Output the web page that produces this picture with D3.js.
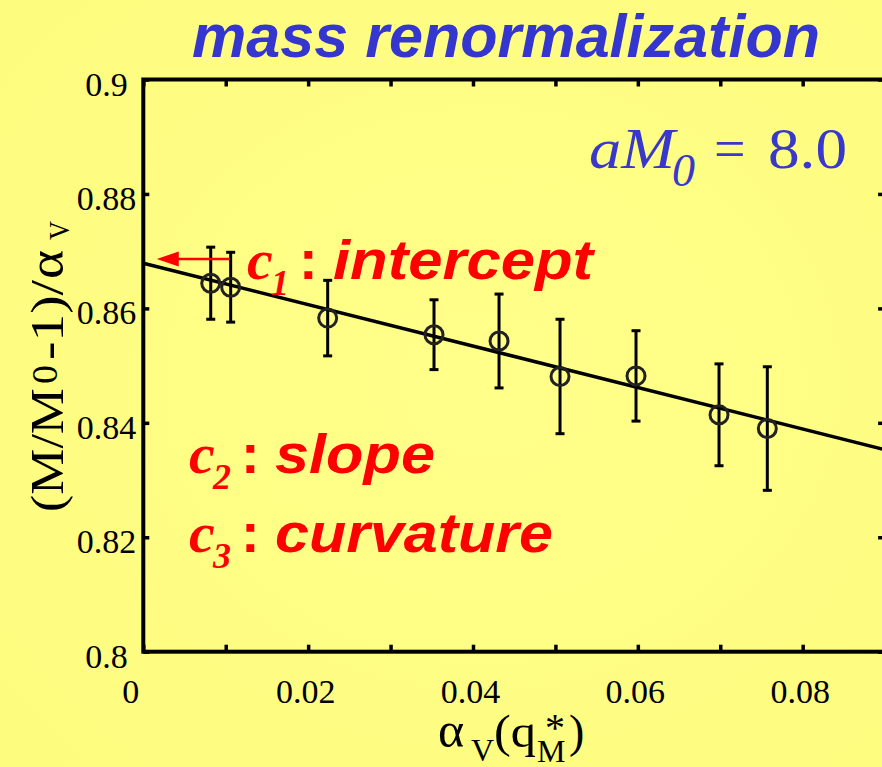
<!DOCTYPE html>
<html><head><meta charset="utf-8">
<script src="https://cdn.jsdelivr.net/npm/d3@7"></script>
<style>html,body{margin:0;padding:0;background:#ffff80;} svg{display:block}</style>
</head><body>
<svg id="chart" width="882" height="767"></svg>
<script>
// ---- data ----
const xValues = [0.00818, 0.0106, 0.02237, 0.03527, 0.04316, 0.05056, 0.05978, 0.06985, 0.07571];
const yValues = [0.8644, 0.8637, 0.8583, 0.8554, 0.8543, 0.8481, 0.8482, 0.8414, 0.8390];
const yErrors = [0.0063, 0.0061, 0.0066, 0.0061, 0.0082, 0.0100, 0.0079, 0.0089, 0.0108];
const fitX = [0, 0.09];
const fitY = [0.8679, 0.8353];
const xTickMarks = [0, 0.01, 0.02, 0.03, 0.04, 0.05, 0.06, 0.07, 0.08, 0.09];
const xTickValues = [0, 0.02, 0.04, 0.06, 0.08];
const xTickLabels = ["0", "0.02", "0.04", "0.06", "0.08"];
const yTickValues = [0.8, 0.82, 0.84, 0.86, 0.88, 0.9];
const yTickLabels = ["0.8", "0.82", "0.84", "0.86", "0.88", "0.9"];
const arrowFrom = [0.01052, 0.86863];
const arrowTo = [0.00163, 0.86863];

// ---- setup ----
const W = 882, H = 767;
const SERIF = "'Liberation Serif','Times New Roman',serif";
const SANS = "'Liberation Sans',Arial,sans-serif";
const svg = d3.select("#chart");
const defs = svg.append("defs");
const grad = defs.append("radialGradient").attr("id", "bg")
  .attr("cx", "55%").attr("cy", "50%").attr("r", "75%");
grad.append("stop").attr("offset", "0%").attr("stop-color", "#ffff8a");
grad.append("stop").attr("offset", "100%").attr("stop-color", "#fefc7e");
svg.append("rect").attr("width", W).attr("height", H).attr("fill", "url(#bg)");

const x = d3.scaleLinear().domain([0, 0.09]).range([143.3, 885.1]);
const y = d3.scaleLinear().domain([0.8, 0.9]).range([651.7, 79.5]);

defs.append("clipPath").attr("id", "plotclip").append("rect")
  .attr("x", x(0)).attr("y", y(0.9))
  .attr("width", x(0.09) - x(0)).attr("height", y(0.8) - y(0.9));

// ---- fit line ----
const fitPts = fitX.map((v, i) => [v, fitY[i]]);
svg.append("path").datum(fitPts)
  .attr("clip-path", "url(#plotclip)")
  .attr("d", d3.line().x(d => x(d[0])).y(d => y(d[1])))
  .attr("fill", "none").attr("stroke", "#000").attr("stroke-width", 3.5);

// ---- error bars ----
const pts = xValues.map((v, i) => ({x: v, y: yValues[i], e: yErrors[i]}));
const eb = svg.append("g").attr("stroke", "#000").attr("stroke-width", 3);
eb.selectAll("line.v").data(pts).join("line").attr("class", "v")
  .attr("x1", d => x(d.x)).attr("x2", d => x(d.x))
  .attr("y1", d => y(d.y - d.e)).attr("y2", d => y(d.y + d.e));
eb.selectAll("line.t").data(pts).join("line").attr("class", "t")
  .attr("x1", d => x(d.x) - 4.5).attr("x2", d => x(d.x) + 4.5)
  .attr("y1", d => y(d.y + d.e)).attr("y2", d => y(d.y + d.e));
eb.selectAll("line.b").data(pts).join("line").attr("class", "b")
  .attr("x1", d => x(d.x) - 4.5).attr("x2", d => x(d.x) + 4.5)
  .attr("y1", d => y(d.y - d.e)).attr("y2", d => y(d.y - d.e));

// ---- circles ----
svg.append("g").selectAll("circle").data(pts).join("circle")
  .attr("cx", d => x(d.x)).attr("cy", d => y(d.y)).attr("r", 9)
  .attr("fill", "none").attr("stroke", "#222").attr("stroke-width", 3);

// ---- axes ----
const xLab = new Map(xTickValues.map((v, i) => [v, xTickLabels[i]]));
const yLab = new Map(yTickValues.map((v, i) => [v, yTickLabels[i]]));

const gB = svg.append("g").attr("transform", `translate(0,${y(0.8)})`)
  .call(d3.axisBottom(x).tickValues(xTickMarks).tickSizeInner(-7).tickSizeOuter(0)
    .tickFormat(d => xLab.has(d) ? xLab.get(d) : ""));
gB.selectAll("text").attr("y", 51.3).attr("dy", null)
  .attr("dx", d => d === 0 ? -13 : -3)
  .style("font-family", SERIF).style("font-size", "34px").attr("fill", "#000");

const gT = svg.append("g").attr("transform", `translate(0,${y(0.9)})`)
  .call(d3.axisTop(x).tickValues(xTickMarks).tickSizeInner(-7).tickSizeOuter(0).tickFormat(""));

const gL = svg.append("g").attr("transform", `translate(${x(0)},0)`)
  .call(d3.axisLeft(y).tickValues(yTickValues).tickSizeInner(-6).tickSizeOuter(0)
    .tickFormat(d => yLab.get(d)));
gL.selectAll("text").attr("x", 106.5 - x(0)).attr("dy", null).attr("y", 15.5)
  .attr("text-anchor", "middle")
  .style("font-family", SERIF).style("font-size", "34px").attr("fill", "#000");

const gR = svg.append("g").attr("transform", `translate(${x(0.09)},0)`)
  .call(d3.axisRight(y).tickValues(yTickValues).tickSizeInner(-7).tickSizeOuter(0).tickFormat(""));

[gB, gT, gL, gR].forEach(g => {
  g.select(".domain").remove();
  g.selectAll(".tick line").attr("stroke", "#000").attr("stroke-width", 3.5);
});

svg.append("rect")
  .attr("x", x(0)).attr("y", y(0.9))
  .attr("width", x(0.09) - x(0)).attr("height", y(0.8) - y(0.9))
  .attr("fill", "none").attr("stroke", "#000").attr("stroke-width", 4);

// ---- text helper ----
function T(parent, str, px, py, o) {
  const t = parent.append("text").attr("x", px).attr("y", py).text(str)
    .style("font-family", o.ff || SERIF).style("font-size", o.fs + "px")
    .style("font-style", o.it ? "italic" : "normal")
    .style("font-weight", o.b ? "bold" : "normal")
    .attr("fill", o.c || "#000");
  if (o.tl) t.attr("textLength", o.tl).attr("lengthAdjust", "spacingAndGlyphs");
  return t;
}

// ---- title ----
T(svg, "mass renormalization", 192, 57, {ff: SANS, fs: 62, it: true, b: true, c: "#3535d0", tl: 628});

// ---- aM0 = 8.0 ----
const BLUE = "#3838cc";
T(svg, "aM", 589, 168, {fs: 56, it: true, c: BLUE, tl: 86});
T(svg, "0", 672, 186, {fs: 46, it: true, c: BLUE});
T(svg, "=", 714, 168, {fs: 56, c: BLUE});
T(svg, "8.0", 768, 168, {fs: 56, c: BLUE, tl: 79});

// ---- arrow ----
const RED = "#ff0000";
svg.append("line")
  .attr("x1", x(arrowFrom[0])).attr("y1", y(arrowFrom[1]))
  .attr("x2", x(arrowTo[0]) + 18).attr("y2", y(arrowTo[1]))
  .attr("stroke", RED).attr("stroke-width", 2.5);
svg.append("path")
  .attr("d", `M${x(arrowTo[0])},${y(arrowTo[1])} l22,-7.5 l0,15 z`)
  .attr("fill", RED);

// ---- c labels ----
function clabel(cx, base, sub, word, wlen) {
  T(svg, "c", cx, base, {fs: 58, it: true, b: true, c: RED});
  T(svg, sub, cx + 24, base + 16, {fs: 36, it: true, b: true, c: RED});
  T(svg, ":", cx + 52, base, {ff: SANS, fs: 56, b: true, c: RED});
  T(svg, word, cx + 86, base, {ff: SANS, fs: 56, b: true, it: true, c: RED, tl: wlen});
}
clabel(247, 279, "1", "intercept", 260);
clabel(189, 473, "2", "slope", 160);
clabel(189, 552, "3", "curvature", 278);

// ---- x axis title ----
T(svg, "\u03B1", 438, 747, {fs: 50});
T(svg, "V", 471, 761, {fs: 32});
T(svg, "(q", 494, 747, {fs: 46, tl: 42});
T(svg, "M", 537, 762, {fs: 32});
T(svg, "*", 545, 741, {fs: 40});
T(svg, ")", 569, 747, {fs: 46});

// ---- y axis title ----
const gy = svg.append("g").attr("transform", "translate(63,0) rotate(-90)");
T(gy, "(M/M", -512, 0, {fs: 46, tl: 124});
T(gy, "0", -384, -6, {fs: 35, tl: 19});
T(gy, "-1)/", -360, 0, {fs: 46, tl: 80});
T(gy, "\u03B1", -279, 0, {fs: 50, tl: 29});
T(gy, "V", -240, 6, {fs: 30, tl: 19});
</script>
</body></html>
